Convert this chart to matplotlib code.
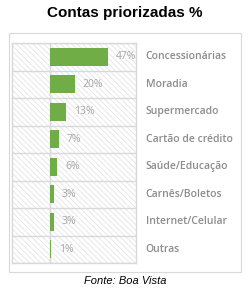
import matplotlib
matplotlib.use("Agg")
import matplotlib.pyplot as plt
from matplotlib.patches import Rectangle

categories = ["Concessionárias", "Moradia", "Supermercado", "Cartão de crédito",
              "Saúde/Educação", "Carnês/Boletos", "Internet/Celular", "Outras"]
values = [47, 20, 13, 7, 6, 3, 3, 1]
labels = ["47%", "20%", "13%", "7%", "6%", "3%", "3%", "1%"]

plt.rcParams['hatch.color'] = '#e4e4e4'
plt.rcParams['hatch.linewidth'] = 0.6

fig = plt.figure(figsize=(2.5, 2.91), dpi=100)
fig.patch.set_facecolor('white')

# outer frame
fig.patches.append(Rectangle((9/250, 1-272/291), 232/250, 239/291, transform=fig.transFigure,
                             fill=False, edgecolor='#d9d9d9', linewidth=0.8))

ax = fig.add_axes([12/250, 1-263/291, 124/250, 220/291])
n = len(categories)
xmin, xmax = -31, 70
ax.set_xlim(xmin, xmax)
ax.set_ylim(n - 0.5, -0.5)
ax.add_patch(Rectangle((xmin, -0.5), xmax - xmin, n, facecolor='white', hatch='\\\\\\\\\\\\',
                       edgecolor='#e4e4e4', linewidth=0, zorder=0))
ypos = list(range(n))
ax.barh(ypos, values, height=0.65, color='#70ad47', zorder=3)
for i in range(n + 1):
    ax.axhline(i - 0.5, color='#d9d9d9', linewidth=1.0, zorder=2)
ax.axvline(0, color='#d9d9d9', linewidth=1.0, zorder=2)
for y, v, lab in zip(ypos, values, labels):
    ax.text(v + 6.5, y, lab, va='center', ha='left', fontsize=7.5, color='#a6a6a6',
            family='Open Sans', zorder=4)
    ax.text(xmax + 8, y, categories[y], va='center', ha='left', fontsize=7.5,
            color='#8c8c8c', family='Open Sans', fontweight='semibold', clip_on=False)
for s in ax.spines.values():
    s.set_color('#d9d9d9')
    s.set_linewidth(1.0)
ax.set_xticks([])
ax.set_yticks([])

fig.text(0.5, 1-13/291, "Contas priorizadas %", ha='center', va='center', fontsize=11,
         fontweight='bold', family='Liberation Sans')
fig.text(0.5, 1-281/291, "Fonte: Boa Vista", ha='center', va='center', fontsize=8,
         style='italic', family='Liberation Sans')

fig.savefig("out.png", dpi=100)
